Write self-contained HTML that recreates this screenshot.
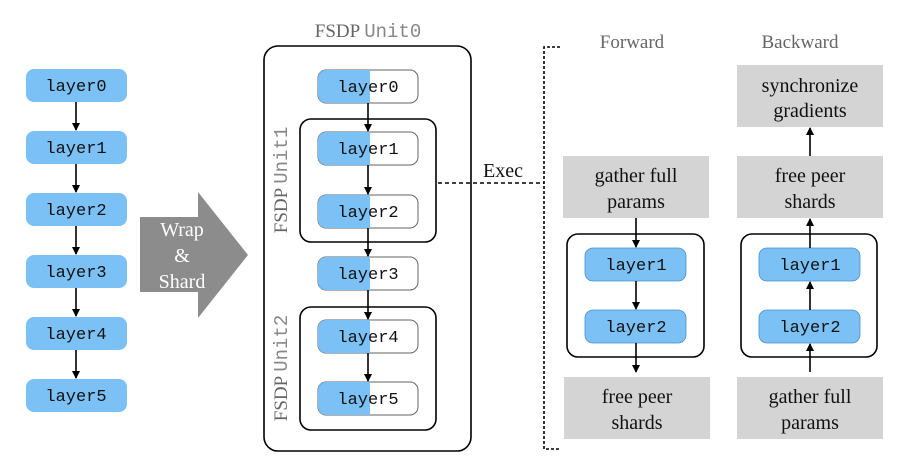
<!DOCTYPE html>
<html><head><meta charset="utf-8"><style>
html,body{margin:0;padding:0;background:#fff;}
svg{display:block;}
</style></head><body>
<svg width="919" height="469" viewBox="0 0 919 469" xmlns="http://www.w3.org/2000/svg">
<defs>
<marker id="a" markerWidth="8" markerHeight="8" refX="7" refY="4" orient="auto" markerUnits="userSpaceOnUse">
<path d="M0,0 L8,4 L0,8 z" fill="#000"/></marker>
<clipPath id="c0"><rect x="318" y="70" width="52" height="400"/></clipPath>
</defs>
<g fill="#7bc1f5">
<rect x="26" y="69" width="101" height="33" rx="8"/>
<rect x="26" y="131" width="101" height="33" rx="8"/>
<rect x="26" y="193" width="101" height="33" rx="8"/>
<rect x="26" y="255" width="101" height="33" rx="8"/>
<rect x="26" y="317" width="101" height="33" rx="8"/>
<rect x="26" y="379" width="101" height="33" rx="8"/>
</g>
<g font-family="'Liberation Mono', 'Courier New', Cousine, monospace" font-size="17" fill="#111" text-anchor="middle">
<text x="76" y="91">layer0</text><text x="76" y="153">layer1</text><text x="76" y="215">layer2</text>
<text x="76" y="277">layer3</text><text x="76" y="339">layer4</text><text x="76" y="401">layer5</text>
</g>
<g stroke="#000" stroke-width="1.6" marker-end="url(#a)">
<line x1="76" y1="102" x2="76" y2="130"/><line x1="76" y1="164" x2="76" y2="192"/>
<line x1="76" y1="226" x2="76" y2="254"/><line x1="76" y1="288" x2="76" y2="316"/>
<line x1="76" y1="350" x2="76" y2="378"/>
</g>
<polygon points="140,217 198,217 198,192 248,255 198,318 198,292 140,292" fill="#8c8c8c"/>
<g font-family="'Liberation Serif', 'Times New Roman', serif" font-size="20" fill="#fff" text-anchor="middle">
<text x="182" y="236">Wrap</text><text x="182" y="262">&amp;</text><text x="182" y="288">Shard</text></g>

<text x="368" y="37" text-anchor="middle" font-size="19"><tspan font-family="'Liberation Serif', 'Times New Roman', serif" fill="#666">FSDP </tspan><tspan font-family="'Liberation Mono', 'Courier New', monospace" fill="#888">Unit0</tspan></text>
<rect x="264" y="46" width="207" height="405" rx="14" fill="none" stroke="#000" stroke-width="1.6"/>
<rect x="300" y="119" width="136" height="123" rx="11" fill="none" stroke="#000" stroke-width="1.6"/>
<rect x="300" y="307" width="136" height="123" rx="11" fill="none" stroke="#000" stroke-width="1.6"/>
<text transform="translate(287,180) rotate(-90)" text-anchor="middle" font-size="19"><tspan font-family="'Liberation Serif', 'Times New Roman', serif" fill="#666">FSDP </tspan><tspan font-family="'Liberation Mono', 'Courier New', monospace" fill="#888">Unit1</tspan></text>
<text transform="translate(287,368) rotate(-90)" text-anchor="middle" font-size="19"><tspan font-family="'Liberation Serif', 'Times New Roman', serif" fill="#666">FSDP </tspan><tspan font-family="'Liberation Mono', 'Courier New', monospace" fill="#888">Unit2</tspan></text>
<g>
<g fill="#fff" stroke="#666" stroke-width="1">
<rect x="318" y="70" width="100" height="33" rx="8"/><rect x="318" y="132" width="100" height="33" rx="8"/>
<rect x="318" y="195" width="100" height="33" rx="8"/><rect x="318" y="257" width="100" height="33" rx="8"/>
<rect x="318" y="320" width="100" height="33" rx="8"/><rect x="318" y="382" width="100" height="33" rx="8"/>
</g>
<g fill="#7bc1f5" clip-path="url(#c0)">
<rect x="318" y="70" width="100" height="33" rx="8"/><rect x="318" y="132" width="100" height="33" rx="8"/>
<rect x="318" y="195" width="100" height="33" rx="8"/><rect x="318" y="257" width="100" height="33" rx="8"/>
<rect x="318" y="320" width="100" height="33" rx="8"/><rect x="318" y="382" width="100" height="33" rx="8"/>
</g>
<g font-family="'Liberation Mono', 'Courier New', Cousine, monospace" font-size="17" fill="#111" text-anchor="middle">
<text x="368" y="92">layer0</text><text x="368" y="154">layer1</text><text x="368" y="217">layer2</text>
<text x="368" y="279">layer3</text><text x="368" y="342">layer4</text><text x="368" y="404">layer5</text>
</g>
<g stroke="#000" stroke-width="1.6" marker-end="url(#a)">
<line x1="368" y1="103" x2="368" y2="131"/><line x1="368" y1="165" x2="368" y2="194"/>
<line x1="368" y1="228" x2="368" y2="256"/><line x1="368" y1="290" x2="368" y2="319"/>
<line x1="368" y1="353" x2="368" y2="381"/>
</g>
</g>

<line x1="438" y1="183" x2="544" y2="183" stroke="#000" stroke-width="1.6" stroke-dasharray="4,3"/>
<text font-family="'Liberation Serif', 'Times New Roman', serif" font-size="20" fill="#111" x="503" y="177" text-anchor="middle">Exec</text>
<path d="M560,47 L544,47 L544,449 L560,449" fill="none" stroke="#000" stroke-width="1.6" stroke-dasharray="3,2"/>

<g font-family="'Liberation Serif', 'Times New Roman', serif" font-size="19" fill="#666" text-anchor="middle">
<text x="632" y="48">Forward</text>
<text x="800" y="48">Backward</text>
</g>

<g fill="#d4d4d4">
<rect x="563" y="156" width="146" height="62"/><rect x="564" y="377" width="146" height="62"/>
<rect x="737" y="65" width="146" height="62"/><rect x="737" y="156" width="146" height="62"/>
<rect x="737" y="377" width="146" height="62"/>
</g>
<g font-family="'Liberation Serif', 'Times New Roman', serif" font-size="20" fill="#111" text-anchor="middle">
<text x="636" y="182">gather full</text><text x="636" y="208">params</text>
<text x="637" y="403">free peer</text><text x="637" y="429">shards</text>
<text x="810" y="92">synchronize</text><text x="810" y="117">gradients</text>
<text x="810" y="182">free peer</text><text x="810" y="208">shards</text>
<text x="810" y="403">gather full</text><text x="810" y="429">params</text>
</g>
<rect x="567" y="234" width="137" height="123" rx="11" fill="none" stroke="#000" stroke-width="1.6"/>
<rect x="741" y="234" width="136" height="123" rx="11" fill="none" stroke="#000" stroke-width="1.6"/>
<g fill="#7bc1f5" stroke="#4a90c8" stroke-width="0.8">
<rect x="585" y="248" width="101" height="33" rx="8"/><rect x="585" y="310" width="101" height="33" rx="8"/>
<rect x="759" y="248" width="101" height="33" rx="8"/><rect x="759" y="310" width="101" height="33" rx="8"/>
</g>
<g font-family="'Liberation Mono', 'Courier New', Cousine, monospace" font-size="17" fill="#111" text-anchor="middle">
<text x="636" y="270">layer1</text><text x="636" y="332">layer2</text>
<text x="810" y="270">layer1</text><text x="810" y="332">layer2</text>
</g>
<g stroke="#000" stroke-width="1.6" marker-end="url(#a)">
<line x1="636" y1="218" x2="636" y2="247"/><line x1="636" y1="281" x2="636" y2="309"/>
<line x1="636" y1="343" x2="636" y2="372"/>
<line x1="810" y1="372" x2="810" y2="344"/><line x1="810" y1="310" x2="810" y2="282"/>
<line x1="810" y1="248" x2="810" y2="219"/><line x1="810" y1="156" x2="810" y2="128"/>
</g>
</svg>
</body></html>
